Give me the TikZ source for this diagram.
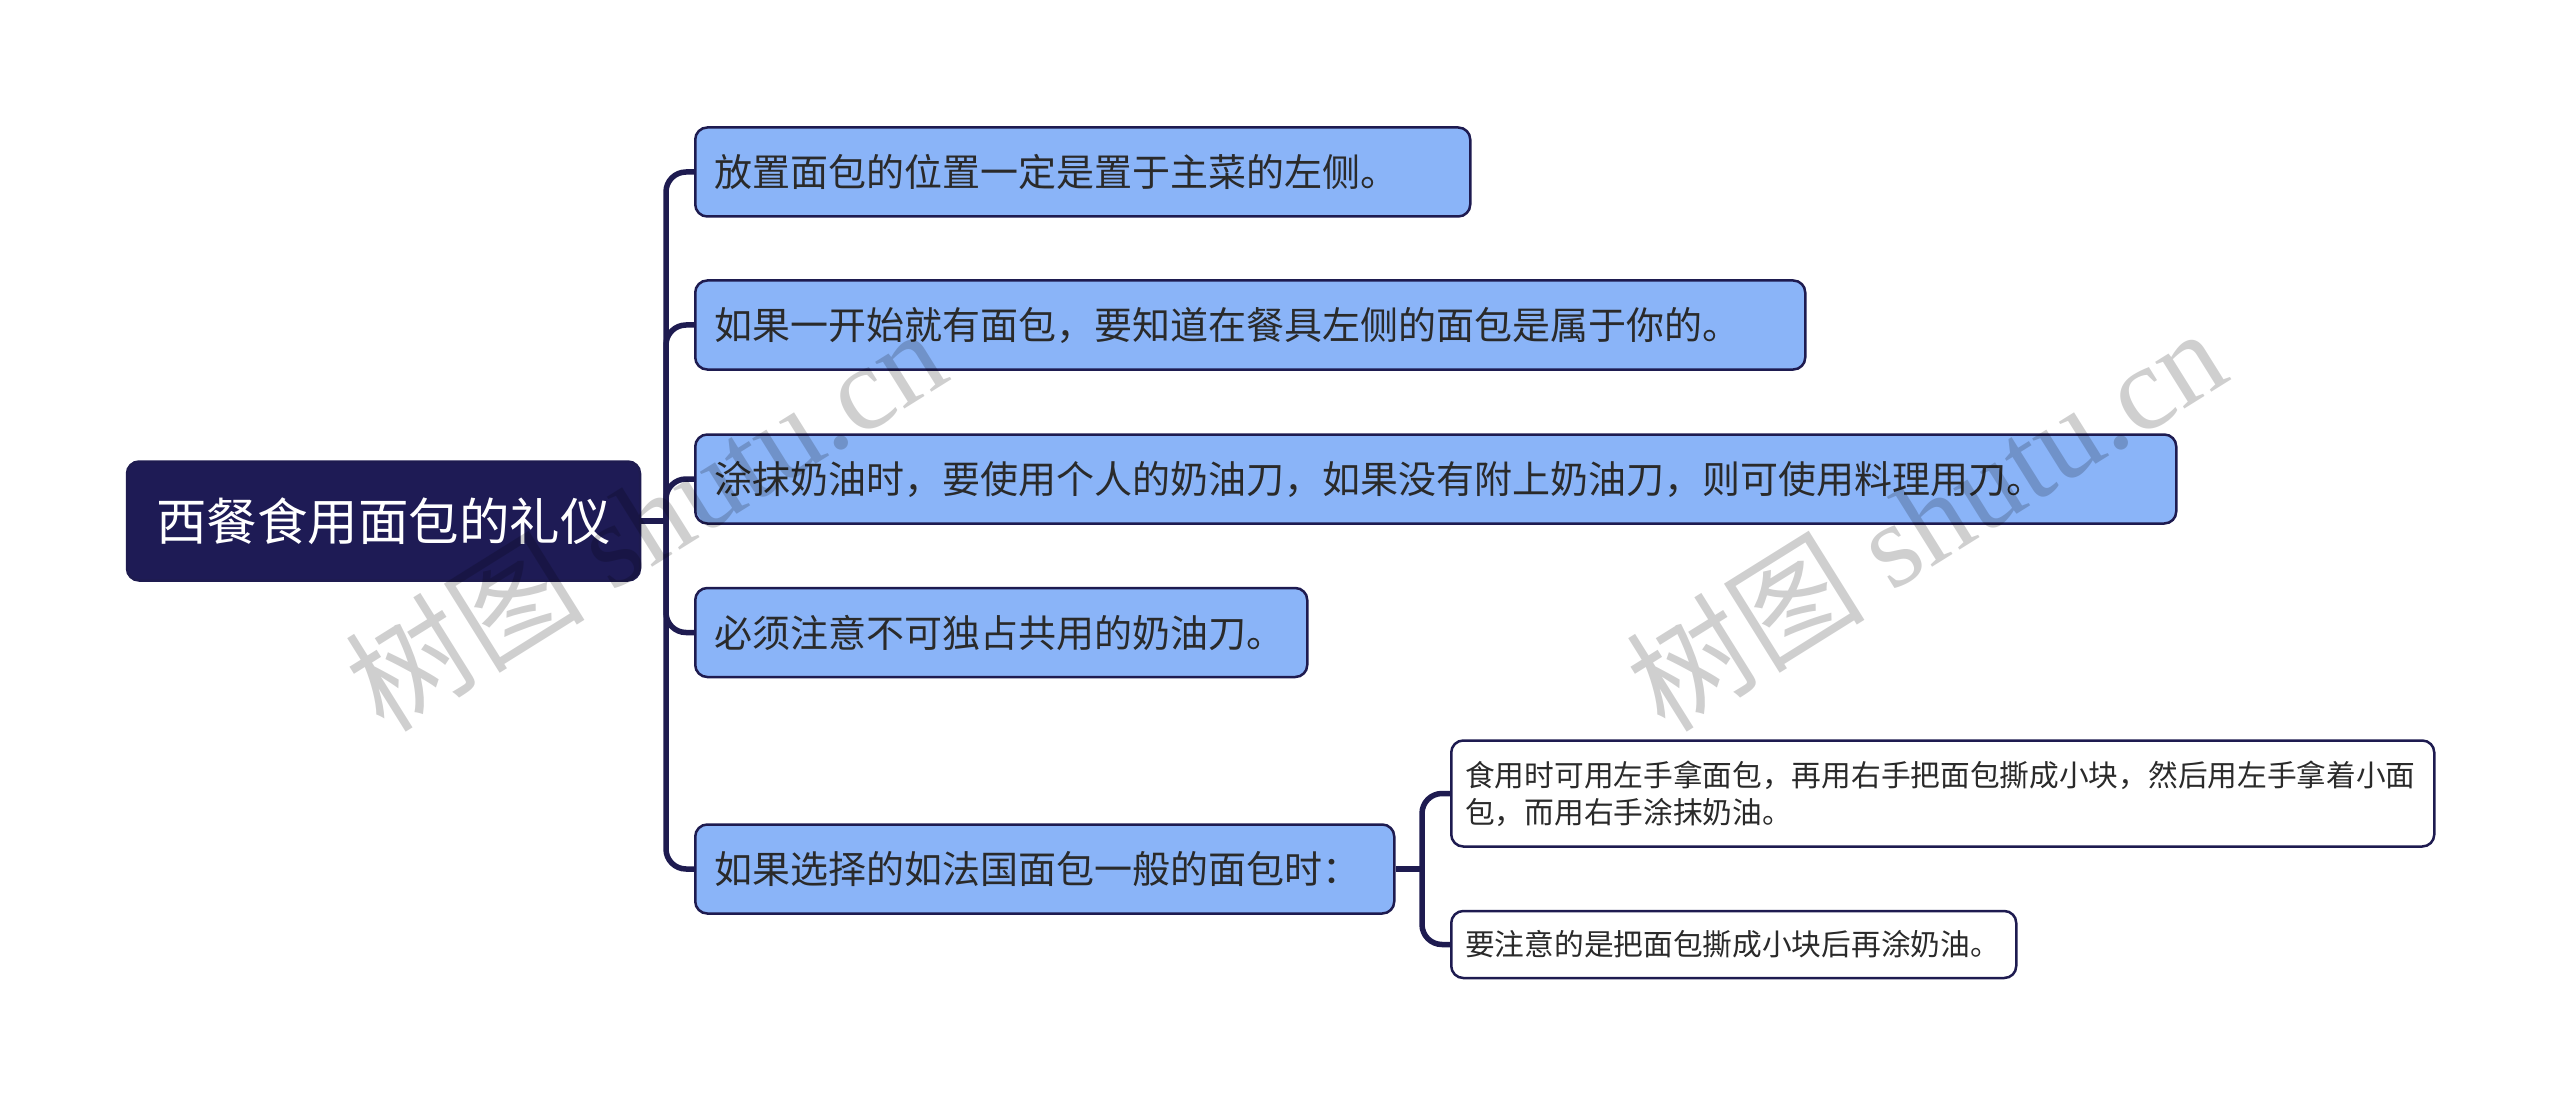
\documentclass[tikz,border=0pt]{standalone}
\usepackage{fontspec}
\newfontfamily\cjk{Noto Sans CJK SC}
\newfontfamily\wmlat{Liberation Serif}
\definecolor{lineC}{HTML}{1E1B50}
\definecolor{rootC}{HTML}{1E1B55}
\definecolor{branchC}{HTML}{8AB4F8}
\definecolor{textC}{HTML}{2A2A2A}
\tikzset{
  rootbox/.style={draw=lineC, line width=2.5pt, fill=rootC, rounded corners=12pt,
    inner sep=0pt, minimum width=513pt, minimum height=119pt, text=white,
    font=\cjk\fontsize{50.5}{60}\selectfont},
  branch/.style={draw=lineC, line width=2.5pt, fill=branchC, rounded corners=12pt,
    inner xsep=19pt, inner ysep=0pt, minimum height=89pt, align=left, anchor=west,
    text=textC, font=\cjk\fontsize{38}{46}\selectfont},
  leaf/.style={draw=lineC, line width=2.5pt, fill=white, rounded corners=12pt,
    inner xsep=14pt, inner ysep=0pt, align=left, anchor=west,
    text=textC, font=\cjk\fontsize{29.7}{37}\selectfont},
  conn/.style={draw=lineC, line width=5.5pt, rounded corners=20pt},
  wmark/.style={rotate=32, text=black, opacity=0.19, inner sep=0pt}
}
\begin{document}
\begin{tikzpicture}[x=1pt,y=-1pt]
\fill[white] (0,0) rectangle (2560,1107);
\useasboundingbox (0,0) rectangle (2560,1107);

\coordinate (sp) at (666,521);
\coordinate (sp2) at (1422,869);

\node[rootbox] (root) at (383.5,521) {西餐食用面包的礼仪};
\node[branch, text width=737pt] (n1) at (694,172) {放置面包的位置一定是置于主菜的左侧。};
\node[branch, text width=1072pt] (n2) at (694,325) {如果一开始就有面包，要知道在餐具左侧的面包是属于你的。};
\node[branch, text width=1443pt] (n3) at (694,479) {涂抹奶油时，要使用个人的奶油刀，如果没有附上奶油刀，则可使用料理用刀。};
\node[branch, text width=574pt] (n4) at (694,632.5) {必须注意不可独占共用的奶油刀。};
\node[branch, text width=661pt] (n5) at (694,869) {如果选择的如法国面包一般的面包时：};
\node[leaf, text width=955pt, minimum height=106pt] (c1) at (1450,793.5) {食用时可用左手拿面包，再用右手把面包撕成小块，然后用左手拿着小面\\包，而用右手涂抹奶油。};
\node[leaf, text width=537pt, minimum height=67pt] (c2) at (1450,944.5) {要注意的是把面包撕成小块后再涂奶油。};

\draw[conn, rounded corners=0pt] (root.east) -- (sp);
\draw[conn] (sp) |- (n1.west);
\draw[conn] (sp) |- (n2.west);
\draw[conn] (sp) |- (n3.west);
\draw[conn] (sp) |- (n4.west);
\draw[conn] (sp) |- (n5.west);
\draw[conn, rounded corners=0pt] (n5.east) -- (sp2);
\draw[conn] (sp2) |- (c1.west);
\draw[conn] (sp2) |- (c2.west);

\node[wmark] (wm1) at (645,518) {\cjk\fontsize{120}{120}\selectfont 树图 \wmlat shutu.cn};
\node[wmark] (wm2) at (1925,518) {\cjk\fontsize{120}{120}\selectfont 树图 \wmlat shutu.cn};
\end{tikzpicture}
\end{document}
